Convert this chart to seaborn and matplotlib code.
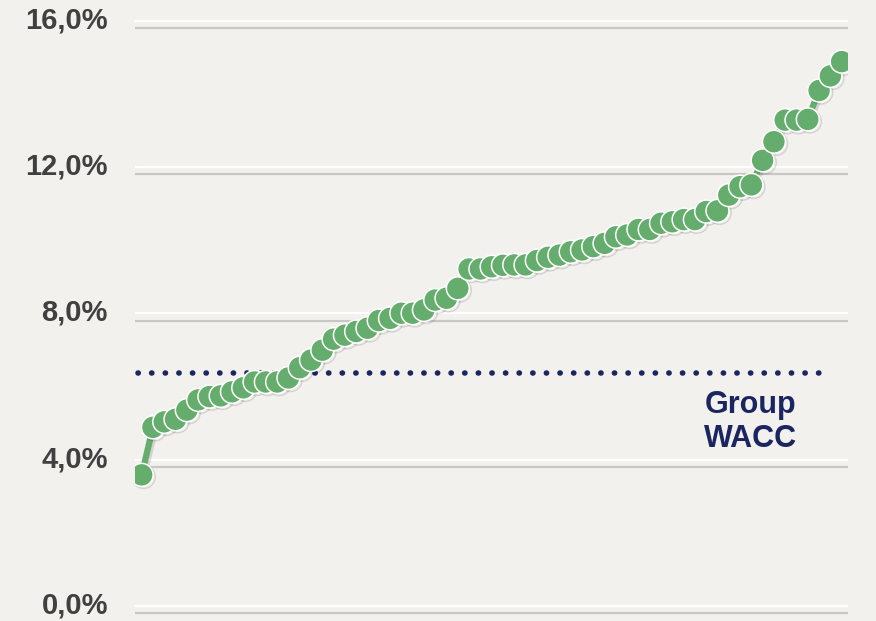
import numpy as np
import pandas as pd
import matplotlib
matplotlib.use("Agg")
import matplotlib.pyplot as plt
import matplotlib.transforms as mtransforms
import matplotlib.patheffects as pe
import seaborn as sns

# Return per entity (%), sorted ascending
entity_rank = list(range(1, 64))
entity_return = [
    3.58, 4.88, 5.03, 5.10, 5.35, 5.63, 5.72, 5.74, 5.85, 5.96,
    6.12, 6.12, 6.12, 6.23, 6.51, 6.72, 6.99, 7.29, 7.40, 7.50,
    7.59, 7.80, 7.86, 8.00, 8.00, 8.09, 8.36, 8.41, 8.68, 9.21,
    9.21, 9.27, 9.31, 9.32, 9.32, 9.44, 9.53, 9.59, 9.68, 9.73,
    9.82, 9.91, 10.09, 10.14, 10.29, 10.29, 10.46, 10.50, 10.56, 10.56,
    10.78, 10.80, 11.23, 11.46, 11.51, 12.18, 12.69, 13.28, 13.28, 13.30,
    14.09, 14.49, 14.88,
]
group_wacc = 6.36
y_ticks = [0, 4, 8, 12, 16]
y_tick_labels = ["0,0%", "4,0%", "8,0%", "12,0%", "16,0%"]
wacc_label = "Group\nWACC"

BG = "#F2F1EE"
GREEN = "#64AD6D"
NAVY = "#1B2560"
LABEL_GREY = "#404040"

sns.set_theme(style="white")
plt.rcParams["font.family"] = ["Liberation Sans", "DejaVu Sans"]

df = pd.DataFrame({"rank": entity_rank, "ret": entity_return})

fig = plt.figure(figsize=(8.76, 6.21), dpi=100, facecolor=BG)
ax = fig.add_axes([135 / 876, 0, 713 / 876, 1])
ax.set_facecolor(BG)

ax.set_xlim(0.41, 63.56)
ax.set_ylim(-0.416, 16.565)

# Embossed grid: white highlight with a grey rule just below it
grey_offset = mtransforms.offset_copy(ax.transData, fig=fig, x=0, y=-7.5, units="dots")
for v in y_ticks:
    ax.axhline(v, color="white", lw=1.6, zorder=1)
    ax.plot([0, 1], [v, v], color="#C9C7C3", lw=1.6, zorder=1,
            transform=mtransforms.blended_transform_factory(ax.transAxes, grey_offset))

# Group WACC dotted reference line
ax.axhline(group_wacc, xmin=(138 - 135) / 713, xmax=(832 - 135) / 713,
           color=NAVY, lw=4.0, linestyle=(0, (0.05, 2.40)),
           dash_capstyle="round", zorder=2)
ax.text(54.9, group_wacc - 1.33, wacc_label, ha="center", va="center",
        fontsize=22, fontweight="bold", color=NAVY, linespacing=1.15)

# Sorted returns line with markers
sns.lineplot(data=df, x="rank", y="ret", ax=ax, color=GREEN, lw=4.5,
             marker="o", markersize=16.5, markerfacecolor=GREEN,
             markeredgecolor="white", markeredgewidth=1.1, zorder=3,
             path_effects=[pe.SimpleLineShadow(offset=(1.5, -1.5), shadow_color="black", alpha=0.12),
                           pe.Normal()])

ax.set_yticks(y_ticks)
ax.set_yticklabels(y_tick_labels, fontsize=21, fontweight="bold", color=LABEL_GREY)
ax.tick_params(axis="y", length=0, pad=19.5)
lift = mtransforms.ScaledTranslation(0, 3.5 / 100, fig.dpi_scale_trans)
for lbl in ax.get_yticklabels():
    lbl.set_transform(lbl.get_transform() + lift)
ax.set_xticks([])
ax.set_xlabel("")
ax.set_ylabel("")
for s in ax.spines.values():
    s.set_visible(False)
ax.grid(False)

fig.savefig("out.png", dpi=100, facecolor=BG)
